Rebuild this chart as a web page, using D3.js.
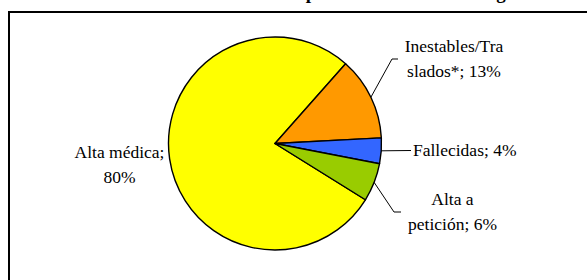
<!DOCTYPE html>
<html>
<head>
<meta charset="utf-8">
<script src="https://cdn.jsdelivr.net/npm/d3@7"></script>
<style>
	body { margin: 0; background: #fff; }
	svg { display: block; }
</style>
</head>
<body>
<svg id="chart" width="587" height="280"></svg>
<script>
const categories = ['Alta médica', 'Inestables/Traslados*', 'Fallecidas', 'Alta a petición']
const values = [80, 13, 4, 6]
const labelLines = [
	['Alta médica;', '80%'],
	['Inestables/Tra', 'slados*; 13%'],
	['Fallecidas; 4%'],
	['Alta a', 'petición; 6%']
]
const colors = ['#FFFF00', '#FF9900', '#3366FF', '#99CC00']

// where each label sits and how its leader line bends
const layout = [
	{ x: 119.5, y: 158, anchor: 'middle', leader: null },
	{ x: 454, y: 52, anchor: 'middle', leader: [[392, 59], [398, 59]] },
	{ x: 413, y: 155.5, anchor: 'start', leader: [[411, 150.5]] },
	{ x: 452.5, y: 205, anchor: 'middle', leader: [[394, 212], [401, 212]] }
]

const serif = "'Liberation Serif', 'Times New Roman', Times, 'DejaVu Serif', serif"

const svg = d3.select('#chart')
const cx = 275
const cy = 143.5
const radius = 106.5
const lineH = 25

// title sits mostly above the visible area, only descenders show
svg.append('text')
	.attr('font-family', serif)
	.attr('font-size', 19)
	.attr('font-weight', 'bold')
	.attr('x', 167)
	.attr('y', -1.5)
	.text('Condición de los pacientes atendidos al egreso')

svg.append('rect')
	.attr('x', 9)
	.attr('y', 12)
	.attr('width', 700)
	.attr('height', 400)
	.attr('fill', 'none')
	.attr('stroke', '#000')
	.attr('stroke-width', 2)

const data = categories.map((c, i) => ({ name: c, value: values[i], lines: labelLines[i], color: colors[i], lay: layout[i] }))

const start = 121.9 * Math.PI / 180
const pie = d3.pie()
	.sort(null)
	.value(d => d.value)
	.startAngle(start)
	.endAngle(start + 2 * Math.PI)

const arc = d3.arc().innerRadius(0).outerRadius(radius)

const g = svg.append('g').attr('transform', 'translate(' + cx + ',' + cy + ')')

const arcs = pie(data)

g.selectAll('path.slice')
	.data(arcs)
	.enter()
	.append('path')
	.attr('class', 'slice')
	.attr('d', arc)
	.attr('fill', d => d.data.color)
	.attr('stroke', '#000')
	.attr('stroke-width', 1.4)
	.attr('stroke-linejoin', 'round')

// leader lines from the slice edge
const leaderLine = d3.line()
arcs.filter(d => d.data.lay.leader).forEach(d => {
	const a = (d.startAngle + d.endAngle) / 2
	const p0 = [cx + radius * Math.sin(a), cy - radius * Math.cos(a)]
	svg.append('path')
		.attr('d', leaderLine([p0].concat(d.data.lay.leader)))
		.attr('fill', 'none')
		.attr('stroke', '#000')
		.attr('stroke-width', 1)
})

const labels = svg.selectAll('text.lbl')
	.data(data)
	.enter()
	.append('text')
	.attr('class', 'lbl')
	.attr('font-family', serif)
	.attr('font-size', 17.5)
	.attr('fill', '#000')
	.attr('text-anchor', d => d.lay.anchor)

labels.selectAll('tspan')
	.data(d => d.lines.map(l => ({ t: l, lay: d.lay })))
	.enter()
	.append('tspan')
	.attr('x', d => d.lay.x)
	.attr('y', (d, i) => d.lay.y + i * lineH)
	.text(d => d.t)
</script>
</body>
</html>
